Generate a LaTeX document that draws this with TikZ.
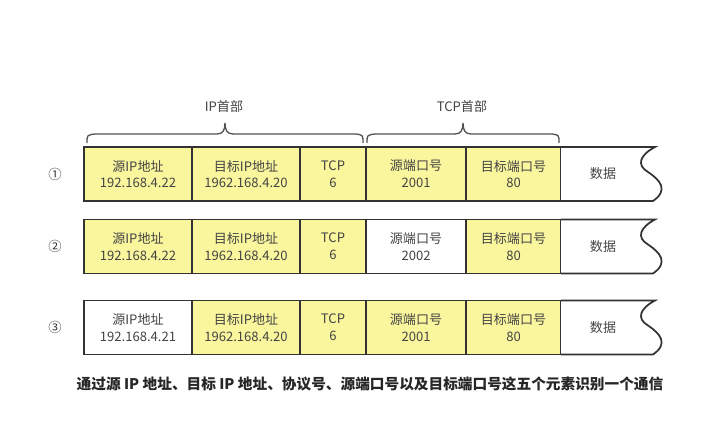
\documentclass[tikz,border=0pt]{standalone}
\usepackage{fontspec}
\setmainfont{Noto Sans CJK SC}
\definecolor{cellyellow}{RGB}{250,246,158}
\definecolor{linecol}{RGB}{51,51,51}
\definecolor{txtcol}{RGB}{68,68,68}
\tikzset{
  cell/.style={draw=linecol, line width=1.3pt, inner sep=0pt, outer sep=0pt,
    minimum height=40.5pt, align=center, text=txtcol,
    font=\fontsize{9.8}{12.6}\selectfont},
  ycell/.style={cell, fill=cellyellow},
  wcell/.style={cell, fill=white},
  rowlabel/.style={text=txtcol!80!black, font=\fontsize{10}{11}\selectfont},
  bracelabel/.style={text=txtcol, font=\fontsize{9.8}{11}\selectfont},
  bracestyle/.style={draw=linecol!85, line width=1pt},
  wide/.style={minimum width=81pt},
  tcpw/.style={minimum width=49.5pt},
  portw/.style={minimum width=75pt},
  dportw/.style={minimum width=71.25pt}
}
\newcommand{\mydata}[2]{%
  \path[fill=white] (561,#2) -- (655,#2) .. controls (640,#2+8) and (636,#2+18) .. (648,#2+25)
     .. controls (660,#2+33) and (669,#2+43) .. (653,#2+54) -- (561,#2+54) -- cycle;
  \draw[draw=linecol, line width=1.3pt] (561,#2) -- (655,#2) .. controls (640,#2+8) and (636,#2+18) .. (648,#2+25)
     .. controls (660,#2+33) and (669,#2+43) .. (653,#2+54) -- (561,#2+54);
  \node[text=txtcol, font=\fontsize{9.8}{12}\selectfont] (#1) at (603,#2+27) {数据};}
\begin{document}
\begin{tikzpicture}[x=0.75pt,y=-0.75pt]
\useasboundingbox[fill=white] (0,0) rectangle (720,431);

% braces
\draw[bracestyle] (87,143) .. controls (87,135) .. (95,134) -- (217,134)
  .. controls (223,134) and (225,130) .. (225,123)
  .. controls (225,130) and (227,134) .. (233,134) -- (356,134)
  .. controls (363,135) .. (363,143);
\draw[bracestyle] (367,143) .. controls (367,135) .. (375,134) -- (455,134)
  .. controls (461,134) and (463,130) .. (463,123)
  .. controls (463,130) and (465,134) .. (471,134) -- (552,134)
  .. controls (559,135) .. (559,143);
\node[bracelabel] (iphdr) at (224,107) {IP首部};
\node[bracelabel] (tcphdr) at (462,107) {TCP首部};

% row 1
\node[rowlabel] (l1) at (55,174) {①};
\node[ycell, wide] (r1c1) at (138,174) {源IP地址\\192.168.4.22};
\node[ycell, wide] (r1c2) at (246,174) {目标IP地址\\1962.168.4.20};
\node[ycell, tcpw] (r1c3) at (333,174) {TCP\\6};
\node[ycell, portw] (r1c4) at (416,174) {源端口号\\2001};
\node[ycell, dportw] (r1c5) at (513.5,174) {目标端口号\\80};
\mydata{r1d}{147}

% row 2
\node[rowlabel] (l2) at (55,246.5) {②};
\node[ycell, wide] (r2c1) at (138,246.5) {源IP地址\\192.168.4.22};
\node[ycell, wide] (r2c2) at (246,246.5) {目标IP地址\\1962.168.4.20};
\node[ycell, tcpw] (r2c3) at (333,246.5) {TCP\\6};
\node[wcell, portw] (r2c4) at (416,246.5) {源端口号\\2002};
\node[ycell, dportw] (r2c5) at (513.5,246.5) {目标端口号\\80};
\mydata{r2d}{219.5}

% row 3
\node[rowlabel] (l3) at (55,327.5) {③};
\node[wcell, wide] (r3c1) at (138,327.5) {源IP地址\\192.168.4.21};
\node[ycell, wide] (r3c2) at (246,327.5) {目标IP地址\\1962.168.4.20};
\node[ycell, tcpw] (r3c3) at (333,327.5) {TCP\\6};
\node[ycell, portw] (r3c4) at (416,327.5) {源端口号\\2001};
\node[ycell, dportw] (r3c5) at (513.5,327.5) {目标端口号\\80};
\mydata{r3d}{300.5}

% caption
\node[font=\fontsize{11}{12}\selectfont\bfseries, text=black!85] (caption) at (370,384)
  {通过源 IP 地址、目标 IP 地址、协议号、源端口号以及目标端口号这五个元素识别一个通信};
\end{tikzpicture}
\end{document}
